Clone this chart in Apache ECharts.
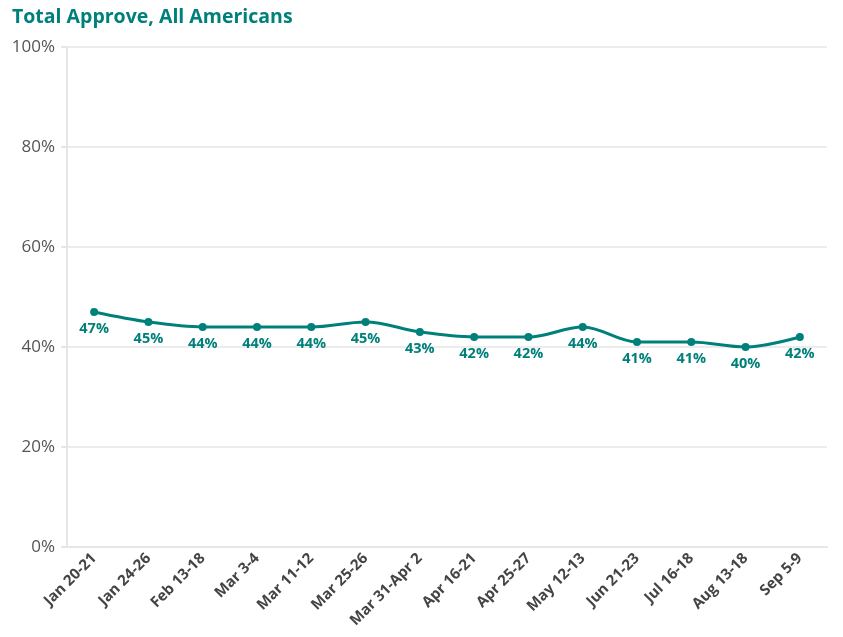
<!DOCTYPE html>
<html><head><meta charset="utf-8">
<script src="https://cdn.jsdelivr.net/npm/echarts@6/dist/echarts.min.js"></script>
<style>html,body{margin:0;padding:0;background:#fff}#c{width:843px;height:637px}</style>
</head><body><div id="c"></div>
<script>
const categories = ["Jan 20-21","Jan 24-26","Feb 13-18","Mar 3-4","Mar 11-12","Mar 25-26","Mar 31-Apr 2","Apr 16-21","Apr 25-27","May 12-13","Jun 21-23","Jul 16-18","Aug 13-18","Sep 5-9"];
const approve = [47,45,44,44,44,45,43,42,42,44,41,41,40,42];
const yTicks = [0,20,40,60,80,100];
const teal = '#00807b';
const F = 'Open Sans';
const chart = echarts.init(document.getElementById('c'));
chart.setOption({
  animation:false,
  title:{text:'Total Approve, All Americans',left:7,top:2,textStyle:{color:teal,fontFamily:F,fontWeight:'bold',fontSize:19.5}},
  grid:{left:67,right:16,top:47,bottom:90},
  xAxis:{type:'category',data:categories,boundaryGap:true,
    axisLine:{lineStyle:{color:'#e6e6e6',width:2}},
    axisTick:{alignWithLabel:true,length:6,lineStyle:{color:'#e6e6e6',width:2}},
    axisLabel:{rotate:45,interval:0,color:'#444',fontFamily:F,fontWeight:'bold',fontSize:15,margin:9}},
  yAxis:{type:'value',min:0,max:100,interval:20,
    axisLine:{show:true,lineStyle:{color:'#e6e6e6',width:2}},
    axisTick:{show:true,length:6,lineStyle:{color:'#e6e6e6',width:2}},
    splitLine:{lineStyle:{color:'#e6e6e6',width:1.5}},
    axisLabel:{formatter:v=>yTicks.includes(v)?v+'%':'',color:'#555',fontFamily:F,fontSize:17,margin:12}},
  series:[{type:'line',data:approve,smooth:0.35,symbol:'circle',symbolSize:8,
    lineStyle:{color:teal,width:3},itemStyle:{color:teal},
    label:{show:true,position:'bottom',distance:5,formatter:p=>p.value+'%',color:teal,fontFamily:F,fontWeight:'bold',fontSize:14.5}}]
});
</script></body></html>
